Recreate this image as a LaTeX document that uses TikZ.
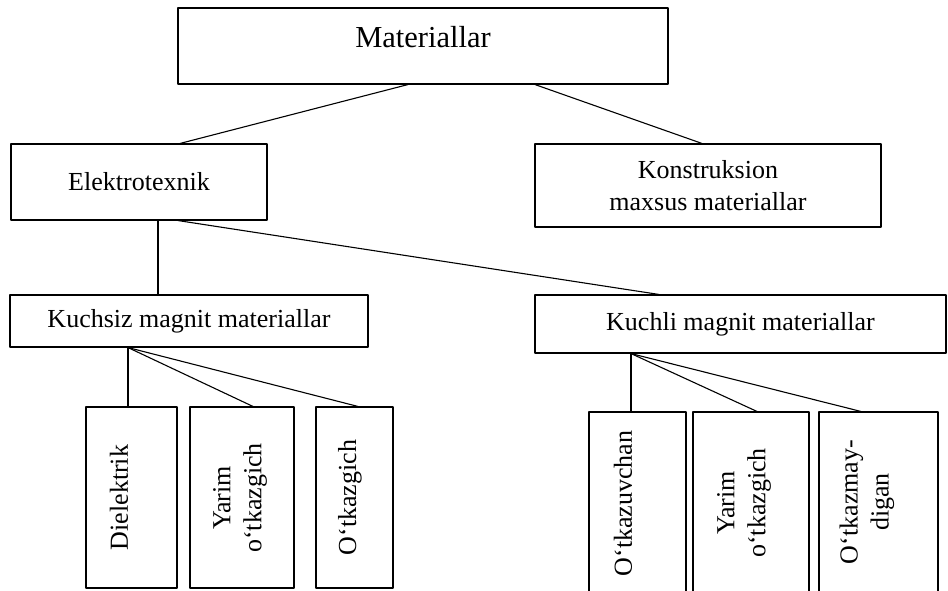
\documentclass[tikz,border=0pt]{standalone}
\usepackage{fontspec}
\setmainfont{Liberation Serif}
\usepackage{tikz}
\usetikzlibrary{positioning}

\begin{document}
\begin{tikzpicture}[line cap=round,line join=round, x=1pt,y=-1pt,
  box/.style={draw, line width=1.1pt, inner sep=0pt, align=center,
    font=\fontsize{26}{32}\selectfont},
  vtext/.style={rotate=90, inner sep=0pt, align=center,
    font=\fontsize{26}{31}\selectfont},
  link/.style={line width=1.1pt}]
\clip(0,0) rectangle (948,590);
% top level
\node[box, minimum width=490pt, minimum height=76pt, text depth=18pt,
  font=\fontsize{30.5}{36}\selectfont] (mat) at (423,46) {Materiallar};
\node[box, minimum width=256pt, minimum height=76pt] (elek) at (139,182) {Elektrotexnik};
\node[box, minimum width=346pt, minimum height=83pt] (konst) at (708,185.5) {Konstruksion\\maxsus materiallar};
\draw[link] ([xshift=-15pt]mat.south) -- ([xshift=41pt]elek.north);
\draw[link] ([xshift=112pt]mat.south) -- ([xshift=-6pt]konst.north);
% magnit materiallar
\node[box, minimum width=358pt, minimum height=52pt] (kuchsiz) at (189,321) {Kuchsiz magnit materiallar};
\node[box, minimum width=411pt, minimum height=58pt] (kuchli) at (740.5,324) {Kuchli magnit materiallar};
\draw[link] ([xshift=19pt]elek.south) -- ([xshift=-31pt]kuchsiz.north);
\draw[link] ([xshift=39pt]elek.south) -- ([xshift=-81.5pt]kuchli.north);
% kuchsiz
\node[box, minimum width=91pt, minimum height=181pt] (diel) at (131.5,497.5) {};
\node[box, minimum width=104pt, minimum height=181pt] (yarimA) at (242,497.5) {};
\node[box, minimum width=77pt, minimum height=181pt] (otkaz) at (354.5,497.5) {};
\node[vtext] (dielT) at (119,497.5) {Dielektrik};
\node[vtext] (yarimAT) at (240,498) {Yarim\\o‘tkazgich};
\node[vtext] (otkazT) at (350,497.5) {O‘tkazgich};
\draw[link] ([xshift=-61pt]kuchsiz.south) -- ([xshift=-3.5pt]diel.north);
\draw[link] ([xshift=-61pt]kuchsiz.south) -- ([xshift=11pt]yarimA.north);
\draw[link] ([xshift=-61pt]kuchsiz.south) -- ([xshift=3.5pt]otkaz.north);
% kuchli
\node[box, minimum width=97pt, minimum height=200pt] (otkazuv) at (637.5,512) {};
\node[box, minimum width=116pt, minimum height=200pt] (yarimB) at (751,512) {};
\node[box, minimum width=119pt, minimum height=200pt] (otkazmay) at (878.5,512) {};
\node[vtext] (otkazuvT) at (623,503.5) {O‘tkazuvchan};
\node[vtext] (yarimBT) at (744,503) {Yarim\\o‘tkazgich};
\node[vtext] (otkazmayT) at (867,502) {O‘tkazmay-\\digan};
\draw[link] ([xshift=-109.5pt]kuchli.south) -- ([xshift=-6.5pt]otkazuv.north);
\draw[link] ([xshift=-109.5pt]kuchli.south) -- ([xshift=6pt]yarimB.north);
\draw[link] ([xshift=-109.5pt]kuchli.south) -- ([xshift=-17.5pt]otkazmay.north);
\end{tikzpicture}
\end{document}
